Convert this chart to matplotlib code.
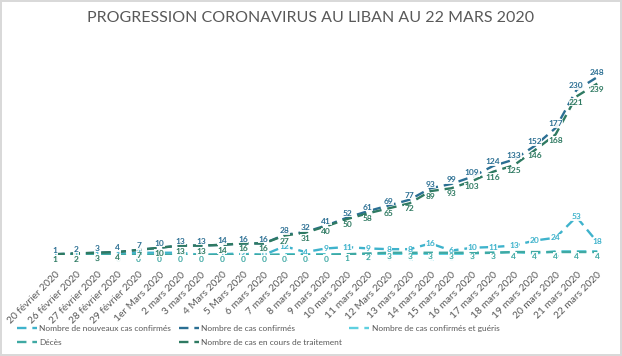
import matplotlib.pyplot as plt

plt.rcParams['font.family'] = ['Lato', 'DejaVu Sans']

dates = ["20 février 2020", "26 février 2020", "27 février 2020", "28 février 2020",
         "29 février 2020", "1er Mars 2020", "2 mars 2020", "3 mars 2020", "4 Mars 2020",
         "5 Mars 2020", "6 mars 2020", "7 mars 2020", "8 mars 2020", "9 mars 2020",
         "10 mars 2020", "11 mars 2020", "12 Mars 2020", "13 mars 2020", "14 mars 2020",
         "15 mars 2020", "16 mars 2020", "17 mars 2020", "18 mars 2020", "19 mars 2020",
         "20 mars 2020", "21 mars 2020", "22 mars 2020"]

nouveaux = [1, 1, 1, 1, 3, 3, 3, 0, 1, 2, 0, 12, 4, 9, 11, 9, 8, 8, 16, 6, 10, 11, 13, 20, 24, 53, 18]
confirmes = [1, 2, 3, 4, 7, 10, 13, 13, 14, 16, 16, 28, 32, 41, 52, 61, 69, 77, 93, 99, 109, 124, 133, 152, 177, 230, 248]
gueris = [0, 0, 0, 0, 0, 0, 0, 0, 0, 0, 0, 1, 1, 1, 1, 1, 1, 1, 1, 1, 2, 3, 4, 2, 5, 5, 5]
deces = [0, 0, 0, 0, 0, 0, 0, 0, 0, 0, 0, 0, 0, 0, 1, 2, 3, 3, 3, 3, 3, 3, 4, 4, 4, 4, 4]
traitement = [1, 2, 3, 4, 7, 10, 13, 13, 14, 16, 16, 27, 31, 40, 50, 58, 65, 72, 89, 93, 103, 116, 125, 146, 168, 221, 239]

series = [
    ("Nombre de nouveaux cas confirmés", nouveaux, "#3fb3cc", 0),
    ("Nombre de cas confirmés", confirmes, "#2b6f93", 3),
    ("Nombre de cas confirmés et guéris", gueris, "#5fd0e0", -3),
    ("Décès", deces, "#3fa9a3", -3),
    ("Nombre de cas en cours de traitement", traitement, "#2f7a62", -4),
]

fig = plt.figure(figsize=(6.22, 3.56), dpi=100)
fig.patch.set_edgecolor("#d9d9d9")
fig.patch.set_linewidth(1.5)
ax = fig.add_axes([0.072, 0.284, 0.905, 0.604])

x = list(range(len(dates)))
lines = {}
for name, vals, col, dy in series:
    ln, = ax.plot(x, vals, color=col, lw=1.7, dashes=(4, 2.5), label=name)
    lines[name] = ln
    for xi, v in zip(x, vals):
        ax.annotate(str(v), (xi, v), xytext=(0, dy), textcoords="offset points",
                    ha="center", va="center", fontsize=6, color=col, fontweight="bold",
                    bbox=dict(boxstyle="square,pad=0.05", fc="white", ec="none", alpha=0.9))

ax.set_xlim(-0.5, len(dates) - 0.5)
ax.set_ylim(0, 300)
ax.set_yticks([])
for s in ax.spines.values():
    s.set_visible(False)
ax.set_xticks(x)
ax.set_xticklabels(dates, rotation=45, ha="right", rotation_mode="anchor",
                   fontsize=7.3, color="#595959")
ax.tick_params(axis="x", length=0, pad=11)

fig.suptitle("PROGRESSION CORONAVIRUS AU LIBAN AU 22 MARS 2020", x=0.5, y=0.968,
             fontsize=11.5, color="#595959")

order = ["Nombre de nouveaux cas confirmés", "Décès", "Nombre de cas confirmés",
         "Nombre de cas en cours de traitement", "Nombre de cas confirmés et guéris"]
fig.legend([lines[n] for n in order], order, ncol=3, loc="center",
           bbox_to_anchor=(0.415, 0.058), frameon=False, fontsize=6,
           labelcolor="#595959", handlelength=2.4, handletextpad=0.3,
           columnspacing=0.9, borderaxespad=0, labelspacing=0.8)

fig.savefig("out.png", dpi=100, edgecolor=fig.get_edgecolor())
